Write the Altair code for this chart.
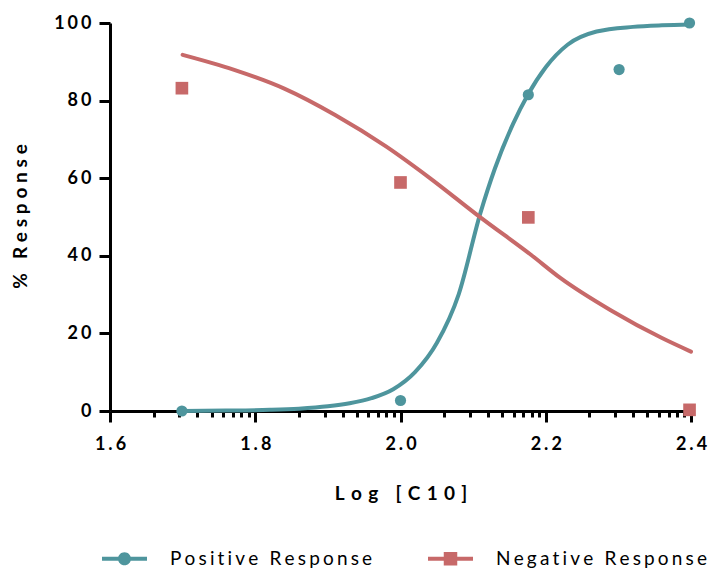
import math
import altair as alt
import pandas as pd

# Measured responses at each log concentration
pos_log_conc = [1.699, 2.0, 2.176, 2.301, 2.398]
pos_response = [0.0, 2.7, 81.5, 88.0, 100.0]
neg_log_conc = [1.699, 2.0, 2.176, 2.398]
neg_response = [83.2, 58.9, 49.9, 0.3]

# Fitted dose-response curves, sampled along the x range
pos_fit_x = [1.70, 1.76, 1.82, 1.86, 1.90, 1.93, 1.96, 1.99, 2.02, 2.05, 2.08,
             2.11, 2.13, 2.155, 2.175, 2.20, 2.23, 2.27, 2.32, 2.36, 2.40]
pos_fit_y = [0.0, 0.1, 0.3, 0.6, 1.2, 2.0, 3.3, 5.6, 10.0, 17.5, 30.0,
             51.0, 62.5, 74.0, 81.4, 88.6, 94.4, 97.8, 99.0, 99.4, 99.6]
neg_fit_x = [1.70, 1.77, 1.84, 1.91, 1.98, 2.04, 2.11, 2.18, 2.22, 2.29, 2.36, 2.40]
neg_fit_y = [91.8, 88.0, 83.1, 76.3, 68.2, 60.1, 49.9, 40.2, 34.3, 25.9, 18.8, 15.3]

series = ["Positive Response", "Negative Response"]
colors = ["#4E959D", "#C76969"]

x_major = [1.6, 1.8, 2.0, 2.2, 2.4]
# log-style subdivisions inside each major interval
subdivisions = [2, 3, 4, 5, 6, 7, 8, 9]
y_ticks = [0, 20, 40, 60, 80, 100]

x_minor = [round(m + 0.2 * math.log10(k), 5) for m in x_major[:-1] for k in subdivisions]

FONT = "Lato"
SP3 = "\u2004"  # three-per-em space
SP4 = "\u2005"  # four-per-em space
SP6 = "\u2006"  # six-per-em space


def tracked(expr, sp):
    """Vega expression that spreads the characters of a string apart."""
    return f"join(split({expr}, ''), '{sp}')"


pos_pts = pd.DataFrame({"x": pos_log_conc, "y": pos_response, "series": series[0]})
neg_pts = pd.DataFrame({"x": neg_log_conc, "y": neg_response, "series": series[1]})
pos_fit = pd.DataFrame({"x": pos_fit_x, "y": pos_fit_y})
neg_fit = pd.DataFrame({"x": neg_fit_x, "y": neg_fit_y})
all_pts = pd.concat([pos_pts, neg_pts])

x_scale = alt.Scale(domain=[1.6, 2.4], nice=False, zero=False)
y_scale = alt.Scale(domain=[0, 100], nice=False)

x_major_axis = alt.Axis(
    values=x_major, orient="bottom", grid=False,
    labelExpr=tracked("format(datum.value, '.1f')", SP6),
    labelFont=FONT, labelFontWeight="bold", labelFontSize=18, labelColor="black",
    labelPadding=13, labelFlush=False, labelOverlap=False,
    tickSize=11, tickWidth=3, tickColor="black",
    domainWidth=3, domainColor="black",
    title=SP3.join("Log [C10]"), titleFont=FONT, titleFontWeight="bold",
    titleFontSize=19, titleColor="black",
    titleX=290.5, titleY=82, titleBaseline="middle", titleAlign="center",
)
x_minor_axis = alt.Axis(
    values=x_minor, orient="bottom", grid=False, labels=False, domain=False,
    tickSize=6, tickWidth=3, tickColor="black", title=None,
)
y_axis = alt.Axis(
    values=y_ticks, grid=False,
    labelExpr=tracked("format(datum.value, 'd')", SP6),
    labelFont=FONT, labelFontWeight="bold", labelFontSize=18, labelColor="black",
    labelPadding=8,
    tickSize=11, tickWidth=3, tickColor="black",
    domainWidth=3, domainColor="black",
    title=SP4.join("% Response"), titleFont=FONT, titleFontWeight="bold",
    titleFontSize=19, titleColor="black",
    titleX=-90, titleY=193, titleBaseline="middle", titleAlign="center", titleAngle=270,
)
Y = alt.Y("y:Q", scale=y_scale, axis=y_axis)

# Legend glyphs: a short line with the series marker in the middle
line_circle = ("M-1,-0.09 H1 V0.09 H-1 Z "
               "M0.29,0 A0.29,0.29 0 1,1 -0.29,0 A0.29,0.29 0 1,1 0.29,0 Z")
line_square = "M-1,-0.09 H1 V0.09 H-1 Z M-0.3,-0.3 H0.3 V0.3 H-0.3 Z"

legend = alt.Legend(
    orient="none", legendX=-8, legendY=513, direction="horizontal", title=None,
    symbolSize=2025, symbolStrokeWidth=0, symbolOpacity=1,
    labelFont=FONT, labelFontSize=19, labelColor="black", labelLimit=400,
    labelExpr=tracked("'' + datum.value", SP6),
    labelOffset=23, columnPadding=55, padding=0,
)

line_style = dict(strokeWidth=4, interpolate="monotone", strokeCap="round")

pos_curve = alt.Chart(pos_fit).mark_line(color=colors[0], **line_style).encode(
    x=alt.X("x:Q", scale=x_scale, axis=x_major_axis), y=Y,
)
neg_curve = alt.Chart(neg_fit).mark_line(color=colors[1], **line_style).encode(
    x=alt.X("x:Q", scale=x_scale, axis=None), y=Y,
)
pos_points = alt.Chart(pos_pts).mark_circle(size=125, opacity=1, color=colors[0]).encode(
    x=alt.X("x:Q", scale=x_scale, axis=x_minor_axis), y=Y,
)
neg_points = alt.Chart(neg_pts).mark_square(size=160, opacity=1, color=colors[1]).encode(
    x=alt.X("x:Q", scale=x_scale, axis=None), y=Y,
)

# Carries the series legend only; its rows are filtered away so nothing is drawn
legend_layer = alt.Chart(all_pts).transform_filter("false").mark_point(
    filled=True, opacity=1, size=2025
).encode(
    x=alt.X("x:Q", scale=x_scale, axis=None),
    y=Y,
    color=alt.Color("series:N", scale=alt.Scale(domain=series, range=colors), legend=legend),
    shape=alt.Shape("series:N", scale=alt.Scale(domain=series, range=[line_circle, line_square]),
                    legend=legend),
)

chart = alt.layer(pos_curve, neg_curve, pos_points, neg_points, legend_layer).resolve_axis(
    x="independent"
).properties(
    width=581, height=388, autosize="none",
    padding={"left": 110, "top": 23, "right": 17, "bottom": 161},
).configure_view(stroke=None)

chart.save("out.html", embed_options={"renderer": "svg", "actions": False})
